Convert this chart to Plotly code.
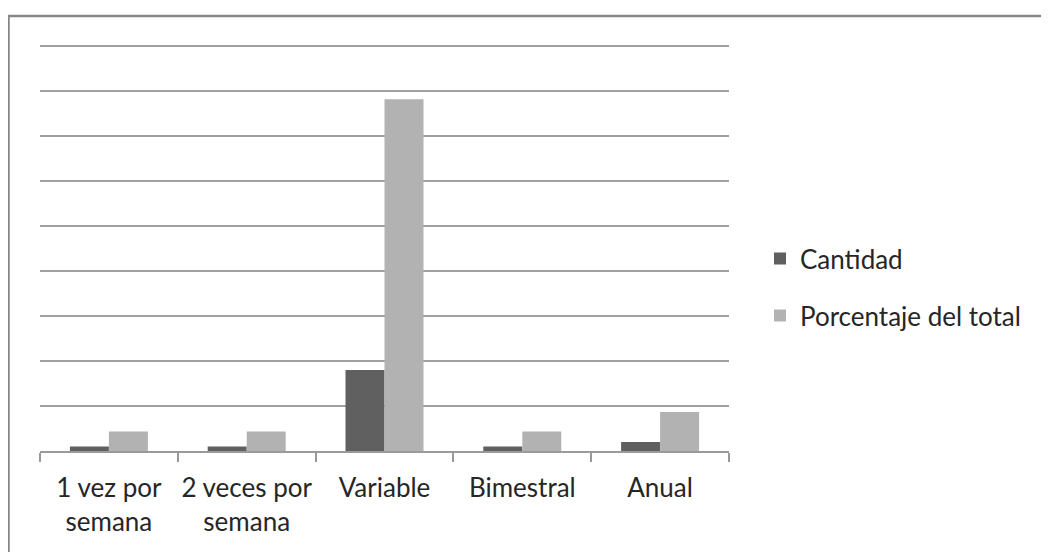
import plotly.graph_objects as go

categories = ["1 vez por<br>semana", "2 veces por<br>semana", "Variable", "Bimestral", "Anual"]
cantidad = [1, 1, 18, 1, 2]
porcentaje = [4.35, 4.35, 78.26, 4.35, 8.7]

FONT = "Lato, Calibri, sans-serif"

fig = go.Figure()
fig.add_trace(go.Bar(x=categories, y=cantidad, name="Cantidad",
                     marker=dict(color="#606060", line=dict(width=0)),
                     legendgroup="a"))
fig.add_trace(go.Bar(x=categories, y=porcentaje, name="Porcentaje del total",
                     marker=dict(color="#b2b2b2", line=dict(width=0)),
                     legendgroup="b"))

# page body has an 8px margin; positions below are in figure pixels
W, H = 1049, 552
OFF = 8
YMAX = 91
L = 40 - OFF
R = W - (729 - OFF)
BASE = 451 - OFF
B = H - BASE
pxu = 4.5
T = BASE - YMAX * pxu
pw = W - L - R
ph = H - T - B

fig.update_layout(
    width=W, height=H,
    margin=dict(l=L, r=R, t=T, b=B, autoexpand=False),
    paper_bgcolor="white", plot_bgcolor="white",
    barmode="group", bargap=0.434, bargroupgap=0,
    font=dict(family=FONT, size=26, color="#262626"),
    showlegend=True,
    legend=dict(x=(760 - OFF - L) / pw, xanchor="left",
                y=(BASE - (287 - OFF)) / ph, yanchor="middle",
                traceorder="grouped", tracegroupgap=20,
                font=dict(family=FONT, size=26, color="#262626"),
                bgcolor="rgba(0,0,0,0)"),
    xaxis=dict(showline=True, linecolor="#9a9a9a", linewidth=1.5,
               ticks="outside", tickson="boundaries", ticklen=9, tickcolor="#9a9a9a",
               tickwidth=1.5, showgrid=False, zeroline=False, tickangle=0,
               automargin=False, ticklabelstandoff=13,
               tickfont=dict(family=FONT, size=26, color="#262626")),
    yaxis=dict(range=[0, YMAX], tick0=0, dtick=10, showticklabels=False, showline=False,
               showgrid=True, gridcolor="#a0a0a0", gridwidth=1.5, zeroline=False,
               ticks="", automargin=False),
)

fig.add_shape(type="rect", xref="paper", yref="paper",
              x0=(8.5 - OFF - L) / pw, x1=(W + 20 - L) / pw,
              y0=(BASE - (H + 20)) / ph, y1=(BASE - (15.5 - OFF)) / ph,
              line=dict(color="#868686", width=2.5), fillcolor="rgba(0,0,0,0)",
              layer="below")

fig.write_html("out.html")
